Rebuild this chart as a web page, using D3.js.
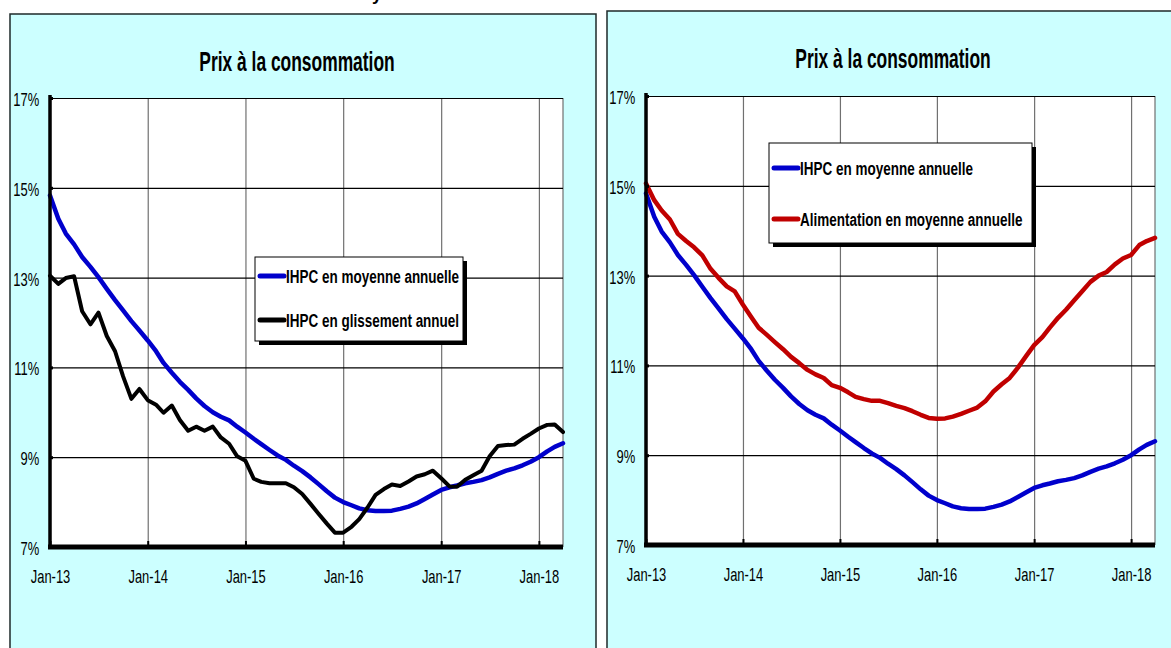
<!DOCTYPE html>
<html>
<head>
<meta charset="utf-8">
<script src="https://cdn.jsdelivr.net/npm/d3@7"></script>
<style>
  body { margin: 0; background: #fff; }
  svg { display: block; font-family: 'Liberation Sans', Arial, sans-serif; }
</style>
</head>
<body>
<div id="chart"></div>
<script>
// ---- data (monthly, Jan-13 .. Apr-18) ----
var startMonth = new Date(2013, 0, 1);

var ihpcMoyenne = [
  14.83, 14.31, 13.98, 13.74, 13.46, 13.24, 13.01, 12.75, 12.50, 12.27, 12.03, 11.82,
  11.60, 11.36, 11.10, 10.88, 10.68, 10.50, 10.31, 10.14, 10.00, 9.90, 9.82, 9.68,
  9.55, 9.41, 9.29, 9.16, 9.04, 8.94, 8.81, 8.69, 8.55, 8.40, 8.24, 8.10,
  8.00, 7.93, 7.86, 7.82, 7.80, 7.80, 7.81, 7.85, 7.90, 7.97, 8.07, 8.17,
  8.27, 8.33, 8.37, 8.42, 8.45, 8.49, 8.55, 8.63, 8.70, 8.75, 8.82, 8.90,
  9.00, 9.13, 9.23, 9.31
];

var ihpcGlissement = [
  13.04, 12.86, 12.99, 13.03, 12.25, 11.96, 12.22, 11.70, 11.36, 10.80, 10.30, 10.52,
  10.27, 10.17, 9.99, 10.15, 9.83, 9.59, 9.68, 9.59, 9.68, 9.44, 9.30, 9.02,
  8.92, 8.52, 8.45, 8.42, 8.42, 8.42, 8.33, 8.18, 7.96, 7.74, 7.52, 7.32,
  7.32, 7.45, 7.62, 7.88, 8.16, 8.29, 8.39, 8.36, 8.46, 8.57, 8.62, 8.70,
  8.53, 8.35, 8.34, 8.50, 8.60, 8.70, 9.02, 9.25, 9.27, 9.28, 9.41, 9.52,
  9.64, 9.72, 9.73, 9.56
];

var alimMoyenne = [
  15.05, 14.68, 14.45, 14.25, 13.93, 13.77, 13.63, 13.45, 13.15, 12.95, 12.76, 12.65,
  12.35, 12.08, 11.84, 11.68, 11.52, 11.36, 11.19, 11.05, 10.90, 10.80, 10.72, 10.56,
  10.50, 10.40, 10.30, 10.25, 10.21, 10.21, 10.16, 10.10, 10.05, 9.98, 9.90, 9.83,
  9.81, 9.82, 9.86, 9.92, 9.99, 10.06, 10.20, 10.42, 10.58, 10.72, 10.95, 11.20,
  11.45, 11.63, 11.84, 12.06, 12.24, 12.45, 12.65, 12.86, 13.00, 13.08, 13.25, 13.38,
  13.46, 13.68, 13.77, 13.84
];

var yTicks = [7, 9, 11, 13, 15, 17];
var xTickYears = [2013, 2014, 2015, 2016, 2017, 2018];
var titleText = 'Prix à la consommation';

var months = ihpcMoyenne.map(function(d, i) { return d3.timeMonth.offset(startMonth, i); });
var yearDates = xTickYears.map(function(y) { return new Date(y, 0, 1); });
var fmtMonth = d3.timeFormat('%b-%y');

var FONT_SX = 0.72;   // narrow look for tick labels

var svg = d3.select('#chart').append('svg')
  .attr('width', 1171)
  .attr('height', 648);

// cut-off heading above the panels (only its descender shows)
svg.append('text')
  .attr('x', 372).attr('y', 0)
  .attr('font-size', 18).attr('font-weight', 'bold')
  .text('y');

function squeezedText(g, txt, x, y, size, weight, anchor, sx) {
  return g.append('text')
    .attr('transform', 'translate(' + x + ',' + y + ') scale(' + sx + ',1)')
    .attr('text-anchor', anchor)
    .attr('font-size', size)
    .attr('font-weight', weight)
    .attr('fill', '#000')
    .text(txt);
}

function drawPanel(p, series) {
  var g = svg.append('g');

  // panel background
  g.append('rect')
    .attr('x', p.px).attr('y', p.py)
    .attr('width', p.pw).attr('height', 700)
    .attr('fill', '#ccffff')
    .attr('stroke', '#1e2a2a').attr('stroke-width', 1.5);

  var x = d3.scaleTime().domain([months[0], months[months.length - 1]]).range([p.x0, p.x1]);
  var y = d3.scaleLinear().domain([7, 17]).range([p.y1, p.y0]);

  // plot area
  g.append('rect')
    .attr('x', p.x0).attr('y', p.y0)
    .attr('width', p.x1 - p.x0).attr('height', p.y1 - p.y0)
    .attr('fill', '#fff');

  // vertical gridlines (gray)
  g.append('g')
    .attr('transform', 'translate(0,' + p.y1 + ')')
    .call(d3.axisBottom(x).tickValues(yearDates).tickSize(-(p.y1 - p.y0)).tickFormat(''))
    .call(function(a) { a.select('.domain').remove(); })
    .selectAll('line').attr('stroke', '#707070').attr('stroke-width', 1.2);

  g.append('line')
    .attr('x1', p.x1).attr('x2', p.x1)
    .attr('y1', p.y0).attr('y2', p.y1)
    .attr('stroke', '#707070').attr('stroke-width', 1.2);

  // horizontal gridlines (black)
  g.append('g')
    .attr('transform', 'translate(' + p.x0 + ',0)')
    .call(d3.axisLeft(y).tickValues(yTicks).tickSize(-(p.x1 - p.x0)).tickFormat(''))
    .call(function(a) { a.select('.domain').remove(); })
    .selectAll('line').attr('stroke', '#000').attr('stroke-width', 1.2);

  // series
  var line = d3.line()
    .x(function(d, i) { return x(months[i]); })
    .y(function(d) { return y(d); });

  series.forEach(function(s) {
    g.append('path')
      .datum(s.values)
      .attr('d', line)
      .attr('fill', 'none')
      .attr('stroke', s.color)
      .attr('stroke-width', s.width)
      .attr('stroke-linejoin', 'round')
      .attr('stroke-linecap', 'round');
  });

  // thick axes + small ticks
  g.append('line')
    .attr('x1', p.x0).attr('x2', p.x0)
    .attr('y1', p.y0 - 3).attr('y2', p.y1)
    .attr('stroke', '#000').attr('stroke-width', 3.5);

  g.append('g')
    .attr('transform', 'translate(' + p.x0 + ',0)')
    .call(d3.axisRight(y).tickValues(yTicks).tickSize(3).tickFormat(''))
    .call(function(a) { a.select('.domain').remove(); })
    .selectAll('line').attr('stroke', '#000').attr('stroke-width', 3);

  g.append('line')
    .attr('x1', p.x0 - 2).attr('x2', p.x1)
    .attr('y1', p.y1).attr('y2', p.y1)
    .attr('stroke', '#000').attr('stroke-width', 5);

  g.append('g')
    .attr('transform', 'translate(0,' + p.y1 + ')')
    .call(d3.axisTop(x).tickValues(yearDates).tickSize(6).tickFormat(''))
    .call(function(a) { a.select('.domain').remove(); })
    .selectAll('line').attr('stroke', '#000').attr('stroke-width', 2);

  // tick labels
  var yLab = g.append('g')
    .attr('transform', 'translate(' + p.x0 + ',0)')
    .call(d3.axisLeft(y).tickValues(yTicks).tickSize(0).tickPadding(15)
      .tickFormat(function(d) { return d + '%'; }));
  yLab.select('.domain').remove();
  yLab.selectAll('text')
    .attr('font-family', 'Liberation Sans, Arial, sans-serif')
    .attr('font-size', 18)
    .attr('fill', '#000')
    .attr('dy', '0.42em')
    .attr('transform', 'scale(' + FONT_SX + ',1)');

  var xLab = g.append('g')
    .attr('transform', 'translate(0,' + p.y1 + ')')
    .call(d3.axisBottom(x).tickValues(yearDates).tickSize(0).tickPadding(23).tickFormat(fmtMonth));
  xLab.select('.domain').remove();
  xLab.selectAll('text')
    .attr('font-family', 'Liberation Sans, Arial, sans-serif')
    .attr('font-size', 18)
    .attr('fill', '#000')
    .attr('transform', 'scale(' + FONT_SX + ',1)');

  // title
  squeezedText(g, titleText, p.tx, p.ty, 27, 'bold', 'middle', 0.645);

  // legend with drop shadow
  var L = p.legend;
  g.append('rect')
    .attr('x', L.x + 4).attr('y', L.y + 4)
    .attr('width', L.w).attr('height', L.h)
    .attr('fill', '#000');
  g.append('rect')
    .attr('x', L.x).attr('y', L.y)
    .attr('width', L.w).attr('height', L.h)
    .attr('fill', '#fff')
    .attr('stroke', '#000').attr('stroke-width', 1);

  series.forEach(function(s, i) {
    var ly = L.rows[i];
    g.append('line')
      .attr('x1', L.x + 5).attr('x2', L.x + 29)
      .attr('y1', ly).attr('y2', ly)
      .attr('stroke', s.color).attr('stroke-width', 5)
      .attr('stroke-linecap', 'round');
    squeezedText(g, s.name, L.x + 31, ly + 7, 19, 'bold', 'start', 0.71);
  });
}

var blue = '#0000cc';

drawPanel({
  px: 10, py: 14, pw: 586,
  x0: 50, x1: 563, y0: 98, y1: 547,
  tx: 297, ty: 71,
  legend: { x: 255, y: 257, w: 208, h: 84, rows: [276, 320] }
}, [
  { name: 'IHPC en moyenne annuelle', values: ihpcMoyenne, color: blue, width: 4.5 },
  { name: 'IHPC en glissement annuel', values: ihpcGlissement, color: '#000', width: 4 }
]);

drawPanel({
  px: 607, py: 11, pw: 600,
  x0: 646, x1: 1155, y0: 96, y1: 545,
  tx: 893, ty: 68,
  legend: { x: 769, y: 143, w: 263, h: 100, rows: [168, 219] }
}, [
  { name: 'IHPC en moyenne annuelle', values: ihpcMoyenne, color: blue, width: 4.5 },
  { name: 'Alimentation en moyenne annuelle', values: alimMoyenne, color: '#c00000', width: 4.5 }
]);
</script>
</body>
</html>
